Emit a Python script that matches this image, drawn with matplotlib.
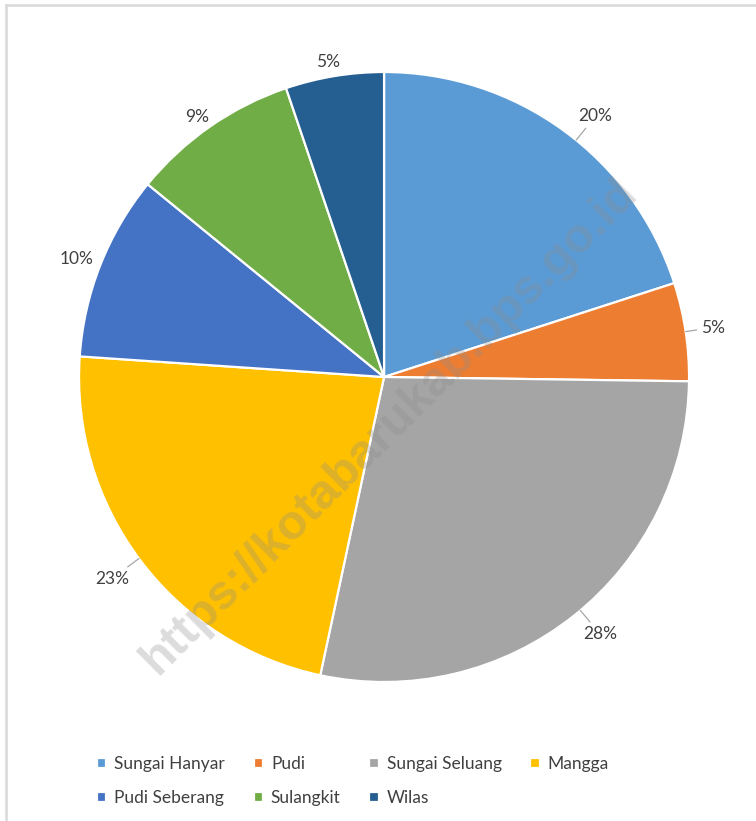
import numpy as np
import matplotlib.pyplot as plt
from matplotlib.lines import Line2D

# data (shares, clockwise from 12 o'clock)
desa = ["Sungai Hanyar", "Pudi", "Sungai Seluang", "Mangga",
        "Pudi Seberang", "Sulangkit", "Wilas"]
nilai = [20.0, 5.2, 28.1, 22.7, 9.8, 8.9, 5.2]
warna = ["#5B9BD5", "#ED7D31", "#A5A5A5", "#FFC000",
         "#4472C4", "#70AD47", "#255E91"]

plt.rcParams['font.family'] = ['Lato', 'DejaVu Sans']
teks = "#404040"

fig = plt.figure(figsize=(7.56, 8.21), dpi=100)
ax = fig.add_axes([0.1045, 0.1693, 0.807, 0.743])

wedges, _ = ax.pie(nilai, colors=warna, startangle=90, counterclock=False,
                   radius=1.0, wedgeprops=dict(edgecolor="white", linewidth=1.6))
ax.set_xlim(-1, 1)
ax.set_ylim(-1, 1)
ax.set_aspect("equal")

total = sum(nilai)
jarak = [1.10, 1.09, 1.10, 1.11, 1.08, 1.05, 1.05]
geser = [-3.0, 0, 1.5, -0.5, 0.5, 1.0, 0.7]  # small angular nudge (deg)
garis = [True, True, True, True, False, False, False]
for w, v, d, s, g in zip(wedges, nilai, jarak, geser, garis):
    mid = np.deg2rad((w.theta1 + w.theta2) / 2 + s)
    x, y = np.cos(mid), np.sin(mid)
    label = f"{v / total * 100:.0f}%"
    if g:
        ax.annotate(label, xy=(x * 1.0, y * 1.0), xytext=(x * d, y * d),
                    ha="center", va="center", fontsize=12.5, color=teks,
                    arrowprops=dict(arrowstyle="-", color="#A6A6A6", lw=0.9,
                                    shrinkA=1, shrinkB=0))
    else:
        ax.text(x * d, y * d, label, ha="center", va="center",
                fontsize=12.5, color=teks)

# watermark
fig.text(0.515, 0.48, "https://kotabarukab.bps.go.id", rotation=45,
         ha="center", va="center", fontsize=35, fontweight="bold",
         family=["Liberation Sans", "DejaVu Sans"],
         color="#8c8c8c", alpha=0.3)

# legend filled row by row
urut = [0, 4, 1, 5, 2, 6, 3]
leg = fig.legend([wedges[i] for i in urut], [desa[i] for i in urut],
                 loc="upper left", bbox_to_anchor=(0.128, 0.079),
                 ncol=4, frameon=False, fontsize=12.5, labelcolor=teks,
                 handlelength=0.55, handleheight=0.55, handletextpad=0.45,
                 columnspacing=1.65, labelspacing=1.05, borderaxespad=0,
                 borderpad=0)

# left / top border of the chart area
fig.add_artist(Line2D([0.0085, 0.0085], [0.0, 0.994], transform=fig.transFigure,
                      color="#D9D9D9", lw=1.8))
fig.add_artist(Line2D([0.0085, 1.0], [0.994, 0.994], transform=fig.transFigure,
                      color="#D9D9D9", lw=1.8))

fig.savefig("out.png", dpi=100)
